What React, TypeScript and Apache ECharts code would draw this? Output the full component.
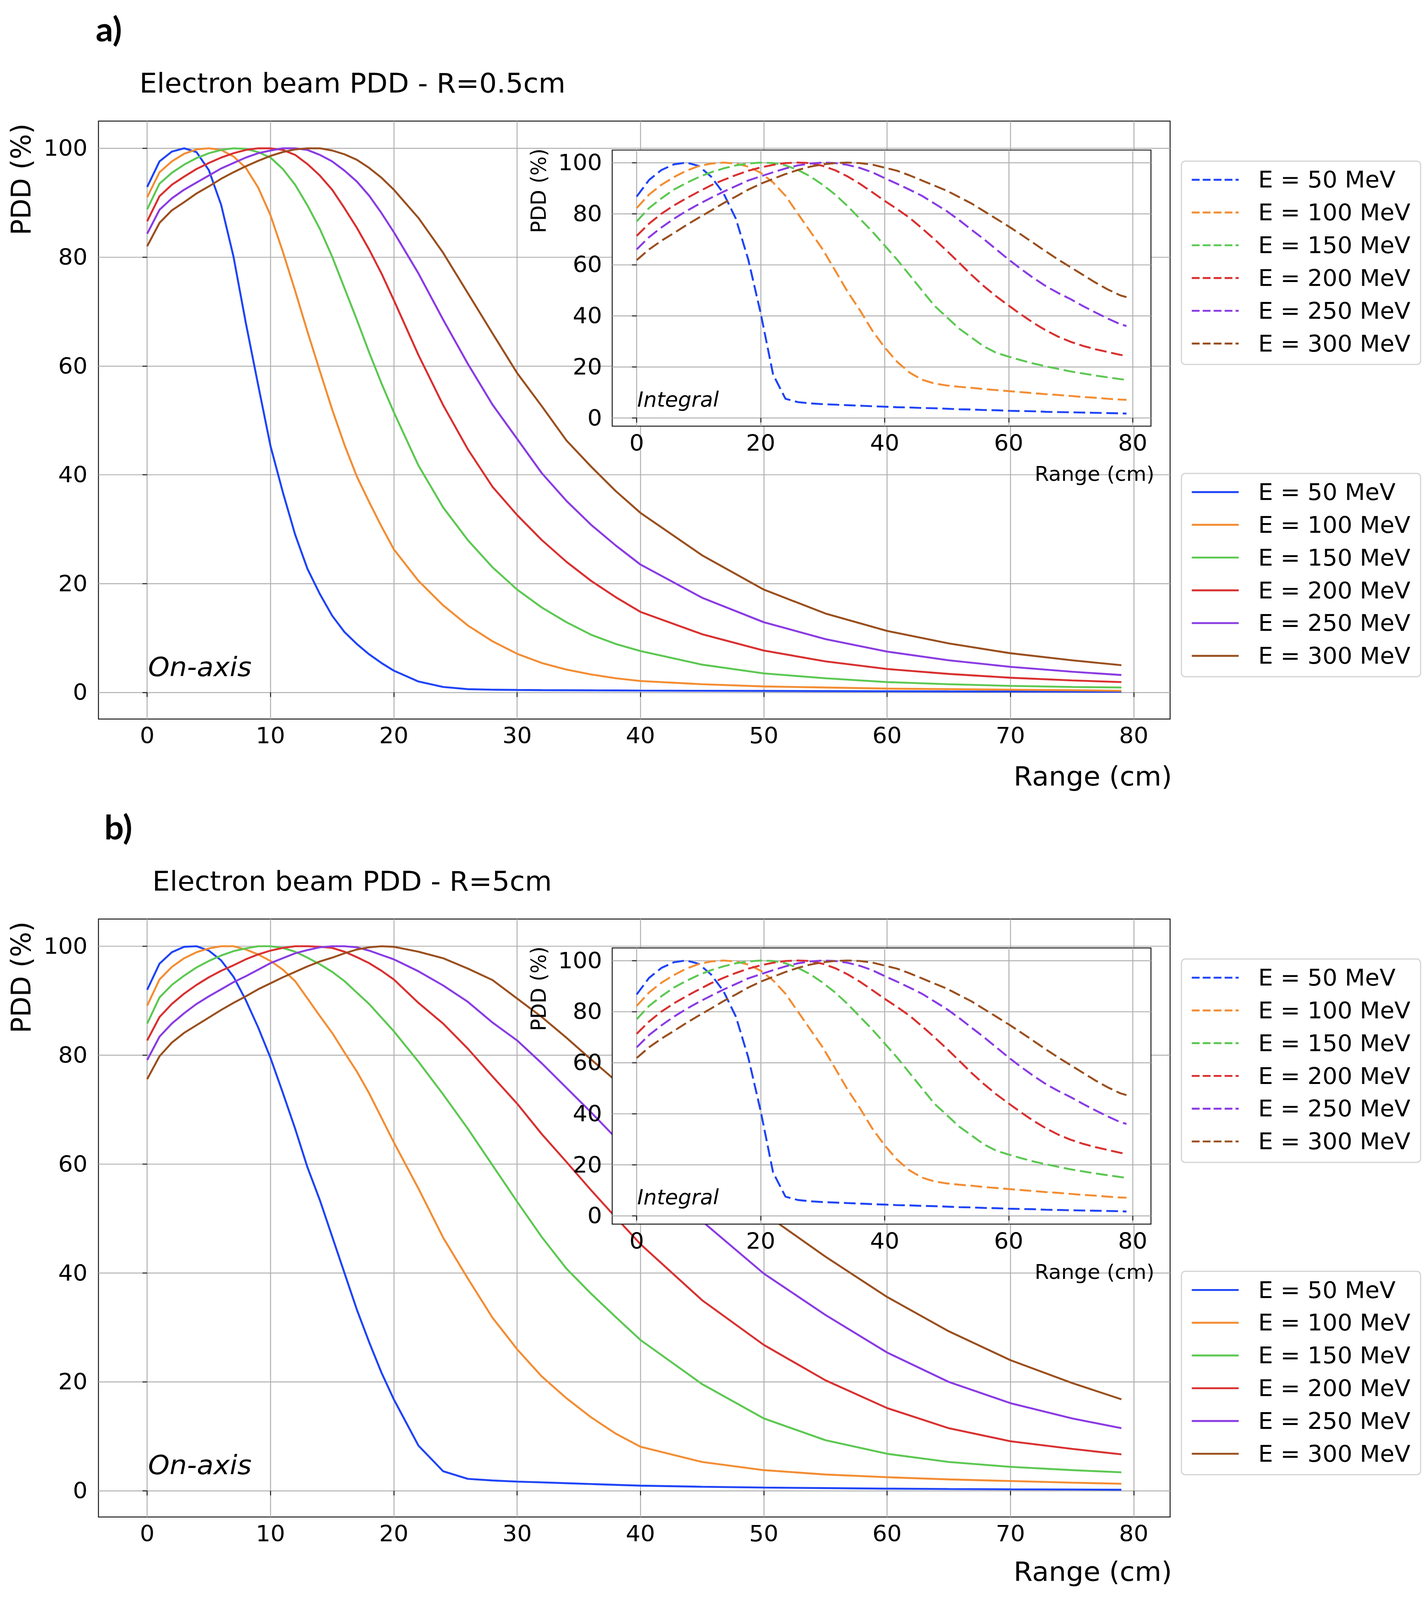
import React, { useEffect, useRef } from 'react';
import * as echarts from 'echarts';

// depth samples (cm) used for the on-axis curves
const MAIN_X = [0, 1, 2, 3, 4, 5, 6, 7, 8, 9, 10, 11, 12, 13, 14, 15, 16, 17, 18, 19, 20, 22, 24, 26, 28, 30, 32, 34, 36, 38, 40, 45, 50, 55, 60, 65, 70, 75, 79];
// depth samples (cm) used for the integral curves
const INSET_X = [0, 2, 4, 6, 8, 10, 12, 14, 16, 18, 20, 22, 24, 26, 28, 30, 32, 34, 36, 38, 40, 42, 44, 46, 48, 50, 52, 54, 56, 58, 60, 62, 64, 66, 68, 70, 72, 74, 76, 78, 79];

const LABELS = ['E = 50 MeV', 'E = 100 MeV', 'E = 150 MeV', 'E = 200 MeV', 'E = 250 MeV', 'E = 300 MeV'];
const COLORS = ['#1f44f7', '#f38d33', '#5cc852', '#d93030', '#8a3be3', '#9a4f1e'];

const MAIN_X_TICKS = [0, 10, 20, 30, 40, 50, 60, 70, 80];
const INSET_X_TICKS = [0, 20, 40, 60, 80];
const Y_TICKS = [0, 20, 40, 60, 80, 100];

// a) R = 0.5 cm, on-axis PDD (%)
const R05_E50 = [92.9, 97.6, 99.4, 100, 99.3, 96.0, 89.6, 80.1, 67.9, 56.5, 45.3, 36.8, 29.0, 22.7, 18.1, 14.1, 11.1, 8.9, 7.0, 5.4, 4.0, 2.0, 1.0, 0.6, 0.5, 0.45, 0.42, 0.4, 0.38, 0.36, 0.34, 0.3, 0.27, 0.24, 0.21, 0.18, 0.16, 0.14, 0.12];
const R05_E100 = [91.0, 95.6, 97.6, 99.0, 99.8, 100, 99.7, 98.5, 96.4, 92.8, 87.7, 81.0, 73.8, 66.3, 59.1, 52.0, 45.5, 39.7, 35.0, 30.5, 26.3, 20.5, 16.0, 12.3, 9.4, 7.1, 5.4, 4.2, 3.3, 2.6, 2.1, 1.5, 1.1, 0.9, 0.7, 0.6, 0.5, 0.4, 0.3];
const R05_E150 = [88.8, 93.5, 95.5, 97.0, 98.2, 99.1, 99.7, 100, 99.9, 99.3, 98.3, 96.2, 93.3, 89.5, 85.2, 80.1, 74.3, 68.5, 62.5, 56.8, 51.5, 41.7, 34.0, 28.0, 23.0, 18.9, 15.6, 12.9, 10.6, 8.9, 7.6, 5.1, 3.5, 2.6, 1.9, 1.5, 1.2, 1.0, 0.9];
const R05_E200 = [86.6, 91.2, 93.3, 94.8, 96.2, 97.3, 98.3, 99.1, 99.7, 100, 100, 99.7, 98.8, 97.1, 95.0, 92.4, 89.0, 85.4, 81.4, 77.0, 72.1, 62.0, 52.8, 44.7, 37.8, 32.6, 28.0, 24.0, 20.5, 17.5, 14.8, 10.7, 7.7, 5.7, 4.3, 3.4, 2.7, 2.2, 1.9];
const R05_E250 = [84.3, 88.7, 90.8, 92.4, 93.7, 95.0, 96.3, 97.3, 98.3, 99.1, 99.6, 100, 100, 99.7, 98.8, 97.6, 95.9, 93.9, 91.3, 88.1, 84.6, 77.0, 68.5, 60.4, 52.9, 46.6, 40.3, 35.2, 30.8, 27.0, 23.5, 17.4, 12.9, 9.8, 7.5, 5.9, 4.7, 3.8, 3.2];
const R05_E300 = [82.0, 86.3, 88.6, 90.1, 91.7, 93.0, 94.4, 95.6, 96.7, 97.7, 98.6, 99.3, 99.8, 100, 100, 99.6, 98.9, 97.9, 96.4, 94.6, 92.4, 87.2, 80.8, 73.4, 66.0, 58.7, 52.6, 46.3, 41.5, 37.0, 33.0, 25.2, 18.9, 14.5, 11.3, 9.0, 7.2, 5.9, 5.0];

// b) R = 5 cm, on-axis PDD (%)
const R5_E50 = [92.0, 96.8, 98.9, 99.9, 100, 99.2, 97.4, 94.4, 90.1, 85.1, 79.5, 73.1, 66.5, 59.4, 53.4, 46.7, 40.0, 33.3, 27.3, 21.7, 16.8, 8.3, 3.6, 2.2, 1.9, 1.7, 1.55, 1.4, 1.25, 1.1, 0.95, 0.75, 0.6, 0.5, 0.4, 0.33, 0.28, 0.24, 0.2];
const R5_E100 = [89.1, 93.9, 96.2, 97.8, 98.9, 99.6, 100, 100, 99.4, 98.5, 97.3, 95.7, 93.6, 90.4, 87.2, 84.1, 80.5, 77.0, 73.0, 68.5, 64.0, 55.5, 46.5, 39.0, 31.8, 26.0, 21.0, 17.0, 13.5, 10.5, 8.1, 5.3, 3.8, 3.0, 2.5, 2.1, 1.8, 1.5, 1.3];
const R5_E150 = [85.8, 90.6, 92.9, 94.6, 96.1, 97.3, 98.3, 99.1, 99.6, 100, 100, 99.7, 99.0, 97.9, 96.7, 95.3, 93.6, 91.5, 89.4, 86.9, 84.4, 78.8, 72.8, 66.5, 59.8, 53.1, 46.6, 40.8, 36.2, 31.9, 27.7, 19.6, 13.3, 9.3, 6.8, 5.3, 4.4, 3.8, 3.4];
const R5_E200 = [82.7, 87.0, 89.4, 91.3, 92.9, 94.3, 95.5, 96.5, 97.6, 98.5, 99.2, 99.7, 100, 100, 99.9, 99.7, 99.0, 98.0, 96.9, 95.5, 93.9, 89.6, 85.8, 81.2, 76.1, 71.1, 65.5, 60.4, 55.2, 50.2, 45.3, 35.0, 26.8, 20.3, 15.2, 11.5, 9.1, 7.7, 6.7];
const R5_E250 = [79.1, 83.4, 85.8, 87.7, 89.4, 90.8, 92.1, 93.4, 94.5, 95.7, 96.9, 97.8, 98.7, 99.3, 99.8, 100, 100, 99.8, 99.2, 98.4, 97.6, 95.4, 92.8, 89.8, 86.0, 82.7, 78.5, 74.0, 69.5, 64.8, 60.2, 49.5, 39.9, 32.3, 25.4, 20.0, 16.1, 13.3, 11.5];
const R5_E300 = [75.6, 79.8, 82.3, 84.1, 85.5, 86.9, 88.3, 89.6, 90.8, 92.1, 93.2, 94.3, 95.3, 96.3, 97.2, 97.9, 98.7, 99.4, 99.8, 100, 99.9, 99.0, 97.8, 95.9, 93.8, 90.4, 87.0, 83.2, 79.2, 75.3, 71.3, 61.0, 51.0, 43.0, 35.6, 29.3, 24.0, 19.8, 16.8];

// integral PDD (%), same in both insets
const INT_E50 = [86.7, 93.2, 97.1, 99.3, 100, 98.7, 94.5, 88, 78, 62, 41, 17, 7.5, 6.2, 5.7, 5.4, 5.2, 5.0, 4.8, 4.6, 4.4, 4.2, 4.1, 3.9, 3.8, 3.6, 3.4, 3.3, 3.1, 3.0, 2.8, 2.7, 2.6, 2.4, 2.3, 2.2, 2.1, 2.0, 1.9, 1.8, 1.7];
const INT_E100 = [82.2, 87.5, 91.3, 94.3, 96.8, 98.6, 99.6, 100, 99.6, 98.4, 96, 92.2, 87, 80, 73, 66, 57.8, 49.5, 42.2, 34.2, 27.6, 22, 17.8, 15, 13.5, 12.7, 12.2, 11.8, 11.3, 10.9, 10.5, 10.1, 9.7, 9.3, 9.0, 8.6, 8.2, 7.9, 7.5, 7.2, 7.1];
const INT_E150 = [77, 82.2, 86, 89.4, 92, 94.3, 96.2, 97.7, 98.9, 99.6, 100, 99.8, 98.9, 97.1, 94.6, 91.3, 87.5, 83, 78, 73, 67.5, 62, 56, 50, 44, 39.5, 35, 31.5, 28, 25.5, 24, 22.6, 21.3, 20.2, 19.2, 18.2, 17.4, 16.6, 15.9, 15.2, 14.9];
const INT_E200 = [71.3, 76.1, 80, 83.2, 86, 88.6, 91.1, 93.2, 95.1, 96.8, 98.1, 99.1, 99.8, 100, 99.8, 98.7, 97, 94.6, 91.7, 88.4, 85, 81.8, 78.4, 74.3, 70, 65.5, 60.8, 56, 51.6, 47.6, 44, 40.5, 37.2, 34.3, 31.8, 29.8, 28.2, 26.9, 25.8, 24.7, 24.3];
const INT_E250 = [66, 70.8, 74.6, 78, 81, 83.7, 86.2, 88.6, 90.8, 93, 94.6, 96.2, 97.7, 98.9, 99.6, 100, 99.8, 99.1, 97.9, 96.2, 93.9, 91.7, 89.4, 87, 84, 81, 77.5, 73.7, 70, 66, 62, 58.3, 54.8, 51.6, 48.9, 46.5, 43.8, 41.3, 38.9, 36.7, 36];
const INT_E300 = [61.8, 66, 69.4, 72.4, 75.5, 78.4, 81.2, 84.1, 86.7, 89.4, 91.7, 93.6, 95.5, 97.1, 98.4, 99.3, 99.8, 100, 99.8, 99.2, 98, 96.8, 95, 93, 91, 89, 86.5, 84, 81, 78, 75, 71.8, 68.5, 65.2, 62, 59, 56, 53, 50.3, 48, 47.3];

const ONAXIS_R05 = [R05_E50, R05_E100, R05_E150, R05_E200, R05_E250, R05_E300];
const ONAXIS_R5 = [R5_E50, R5_E100, R5_E150, R5_E200, R5_E250, R5_E300];
const INTEGRAL = [INT_E50, INT_E100, INT_E150, INT_E200, INT_E250, INT_E300];

const W = 3650;
const H = 4201;
const FONT = 'DejaVu Sans';
const INK = '#1a1a1a';

const PANELS = [
  { key: 'a', dy: 0, letter: 'a)', letterX: 245, title: 'Electron beam PDD - R=0.5cm', titleX: 357, yMin: -4.9, rangeY: 2038, curves: ONAXIS_R05 },
  { key: 'b', dy: 2095, letter: 'b)', letterX: 267, title: 'Electron beam PDD - R=5cm', titleX: 390, yMin: -4.8, rangeY: 4126, curves: ONAXIS_R5 },
];

function valueAxis(grid: number, min: number, max: number, step: number, ticks: number[], margin: number, z: number) {
  return {
    type: 'value',
    gridIndex: grid,
    min,
    max,
    minInterval: step,
    maxInterval: step,
    z,
    axisLine: { show: false },
    axisTick: { show: true, length: 12, customValues: ticks, lineStyle: { color: INK, width: 2.5 } },
    axisLabel: { customValues: ticks, fontSize: 59, fontFamily: FONT, color: '#000', margin },
    splitLine: { show: true, lineStyle: { color: '#b0b0b0', width: 2.5 } },
  };
}

function text(str: string, x: number, y: number, size: number, extra: any = {}, el: any = {}) {
  return {
    type: 'text',
    x,
    y,
    z: 10,
    silent: true,
    ...el,
    style: { text: str, fill: '#000', fontSize: size, fontFamily: FONT, align: 'left', verticalAlign: 'middle', ...extra },
  };
}

export default function App() {
  const ref = useRef<HTMLDivElement>(null);
  // fit the fixed-size figure into whatever viewport we get
  const sx = typeof window !== 'undefined' && window.innerWidth ? Math.min(1, window.innerWidth / W) : 1;
  const sy = typeof window !== 'undefined' && window.innerHeight ? Math.min(1, window.innerHeight / H) : 1;

  useEffect(() => {
    if (!ref.current) return;
    document.documentElement.style.overflow = 'hidden';
    document.body.style.overflow = 'hidden';
    document.body.style.margin = '0';
    const chart = echarts.init(ref.current, null, { renderer: 'svg' });

    const grid: any[] = [];
    const xAxis: any[] = [];
    const yAxis: any[] = [];
    const series: any[] = [];
    const legend: any[] = [];
    const graphic: any[] = [];
    const labelOf: Record<string, string> = {};

    PANELS.forEach((p, pi) => {
      const dy = p.dy;
      const gMain = pi * 2;
      const gIn = pi * 2 + 1;

      grid.push({ left: 252, top: 318 + dy, width: 2743, height: 1570, show: true, borderColor: INK, borderWidth: 2.5, backgroundColor: '#fff', z: 0, outerBoundsMode: 'none' });
      grid.push({ left: 1567, top: 394 + dy, width: 1379, height: 725, show: true, borderColor: INK, borderWidth: 2.5, backgroundColor: '#fff', z: 5, outerBoundsMode: 'none' });

      xAxis.push(valueAxis(gMain, -3.95, 82.95, 10, MAIN_X_TICKS, 14, 0));
      yAxis.push(valueAxis(gMain, p.yMin, 105, 20, Y_TICKS, 28, 0));
      xAxis.push(valueAxis(gIn, -3.95, 82.95, 20, INSET_X_TICKS, 15, 6));
      yAxis.push(valueAxis(gIn, -3.23, 104.9, 20, Y_TICKS, 26, 6));

      const mainNames: string[] = [];
      const intNames: string[] = [];
      p.curves.forEach((vals, i) => {
        const name = `${p.key}-axis-${i}`;
        labelOf[name] = LABELS[i];
        mainNames.push(name);
        series.push({
          type: 'line',
          name,
          xAxisIndex: gMain,
          yAxisIndex: gMain,
          data: MAIN_X.map((x, k) => [x, vals[k]]),
          symbol: 'none',
          showSymbol: false,
          silent: true,
          z: 2,
          lineStyle: { color: COLORS[i], width: 5 },
          itemStyle: { color: COLORS[i] },
        });
      });
      INTEGRAL.forEach((vals, i) => {
        const name = `${p.key}-int-${i}`;
        labelOf[name] = LABELS[i];
        intNames.push(name);
        series.push({
          type: 'line',
          name,
          xAxisIndex: gIn,
          yAxisIndex: gIn,
          data: INSET_X.map((x, k) => [x, vals[k]]),
          symbol: 'none',
          showSymbol: false,
          silent: true,
          z: 7,
          lineStyle: { color: COLORS[i], width: 5, type: [30, 12] },
          itemStyle: { color: COLORS[i] },
        });
      });

      const legendBase = {
        orient: 'vertical',
        left: 3024,
        selectedMode: false,
        itemWidth: 120,
        itemHeight: 2,
        itemGap: 16,
        padding: [14, 26, 20, 24],
        backgroundColor: 'rgba(255,255,255,0.85)',
        borderColor: '#d4d4d4',
        borderWidth: 3,
        borderRadius: 10,
        itemStyle: { opacity: 0 },
        formatter: (n: string) => labelOf[n],
        textStyle: { fontSize: 60, fontFamily: FONT, color: '#000', lineHeight: 70, padding: [0, 0, 0, 45] },
      };
      legend.push({ ...legendBase, top: 423 + dy, data: intNames, lineStyle: { width: 5, type: [20, 8] } });
      legend.push({ ...legendBase, top: 1243 + dy, data: mainNames, lineStyle: { width: 5, type: 'solid' } });

      graphic.push(text(p.letter, p.letterX, 75 + dy, 88, { fontFamily: 'Lato', fontWeight: 'bold' }));
      graphic.push(text(p.title, p.titleX, 219 + dy, 71));
      graphic.push(text('PDD (%)', 54, 471 + dy, 70, { align: 'center' }, { rotation: Math.PI / 2 }));
      graphic.push(text('Range (cm)', 3000, p.rangeY, 70, { align: 'right' }));
      graphic.push(text('PDD (%)', 1378, 501 + dy, 53, { align: 'center' }, { rotation: Math.PI / 2 }));
      graphic.push(text('Range (cm)', 2955, 1244 + dy, 53, { align: 'right' }));
      graphic.push(text('On-axis', 379, 1751 + dy, 70, { fontStyle: 'italic' }));
      graphic.push(text('Integral', 1631, 1049 + dy, 54, { fontStyle: 'italic' }));
    });

    chart.setOption({
      animation: false,
      backgroundColor: '#fff',
      textStyle: { fontFamily: FONT },
      grid,
      xAxis,
      yAxis,
      series,
      legend,
      graphic,
    });
    return () => chart.dispose();
  }, []);

  return (
    <div style={{ position: 'absolute', left: 0, top: 0, width: W, height: H, transform: `scale(${sx}, ${sy})`, transformOrigin: '0 0', background: '#fff' }}>
      <div ref={ref} style={{ width: W, height: H }} />
    </div>
  );
}
